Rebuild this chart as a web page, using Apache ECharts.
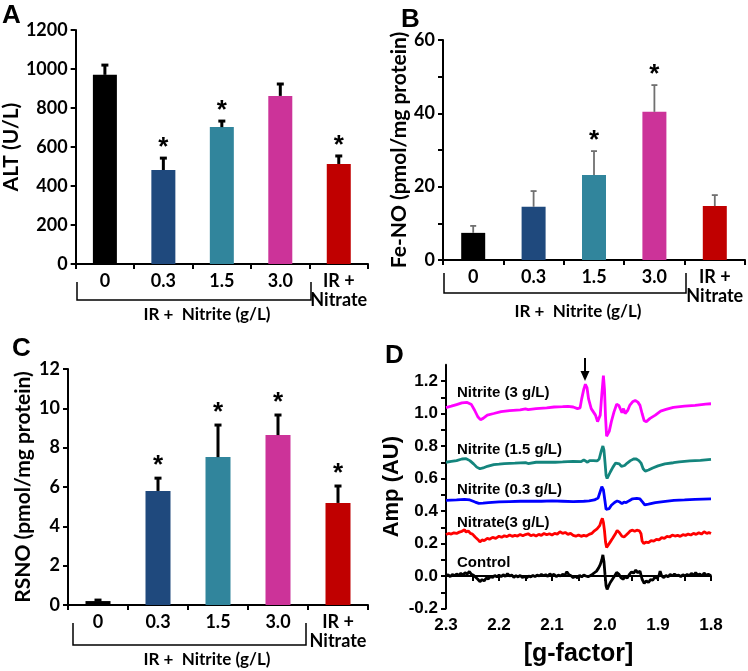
<!DOCTYPE html>
<html><head><meta charset="utf-8">
<script src="https://cdn.jsdelivr.net/npm/echarts@6/dist/echarts.min.js"></script>
<style>html,body{margin:0;padding:0;background:#fff}#c{width:748px;height:671px}</style>
</head><body><div id="c"></div>
<script>
// ---------- data ----------
const categories = ['0', '0.3', '1.5', '3.0', 'IR +\nNitrate'];
const barColors = ['#000000', '#1F497D', '#31859C', '#CC3399', '#C00000'];

const altMean = [970, 482, 702, 862, 513];
const altErr  = [50, 61, 31, 61, 41];
const altSig  = [0, 1, 1, 0, 1];

const fenoMean = [7.4, 14.5, 23.2, 40.4, 14.7];
const fenoErr  = [1.9, 4.3, 6.5, 7.3, 3.0];
const fenoSig  = [0, 0, 1, 1, 0];

const rsnoMean = [0.2, 5.8, 7.52, 8.64, 5.19];
const rsnoErr  = [0.05, 0.65, 1.63, 1.02, 0.86];
const rsnoSig  = [0, 1, 1, 1, 1];

const eprNames = ['Nitrite (3 g/L)', 'Nitrite (1.5 g/L)', 'Nitrite (0.3 g/L)', 'Nitrate(3 g/L)', 'Control'];
const eprColors = ['#FF00FF', '#14857D', '#0000FF', '#FF0000', '#000000'];

const eprNitrite3 = [[2.300,1.036],[2.290,1.045],[2.280,1.055],[2.270,1.065],[2.260,1.068],[2.252,1.055],[2.246,1.02],[2.240,0.98],[2.235,0.962],[2.230,0.97],[2.222,0.99],[2.21,1.0],[2.196,1.012],[2.18,1.018],[2.16,1.022],[2.15,1.028],[2.145,1.024],[2.13,1.03],[2.11,1.034],[2.096,1.04],[2.08,1.042],[2.07,1.044],[2.06,1.04],[2.052,1.03],[2.047,1.035],[2.044,1.09],[2.040,1.15],[2.037,1.18],[2.034,1.16],[2.031,1.09],[2.026,1.03],[2.022,1.01],[2.018,0.99],[2.014,0.95],[2.011,0.94],[2.009,0.99],[2.006,1.12],[2.003,1.233],[2.001,1.15],[1.999,0.98],[1.997,0.86],[1.995,0.85],[1.992,0.89],[1.988,0.95],[1.983,1.01],[1.978,1.057],[1.974,1.05],[1.970,1.02],[1.968,1.005],[1.965,1.03],[1.962,1.0],[1.960,0.995],[1.957,1.02],[1.953,1.052],[1.948,1.072],[1.943,1.08],[1.938,1.07],[1.934,1.05],[1.930,1.0],[1.926,0.955],[1.922,0.95],[1.915,0.97],[1.905,0.99],[1.895,1.015],[1.885,1.025],[1.871,1.038],[1.85,1.045],[1.83,1.05],[1.81,1.058],[1.80,1.06]];

const eprNitrite15 = [[2.3,0.70],[2.29,0.705],[2.28,0.71],[2.27,0.72],[2.262,0.722],[2.255,0.71],[2.248,0.69],[2.242,0.67],[2.236,0.66],[2.23,0.665],[2.222,0.675],[2.21,0.685],[2.2,0.688],[2.19,0.692],[2.17,0.694],[2.15,0.698],[2.145,0.692],[2.13,0.7],[2.11,0.7],[2.094,0.70],[2.08,0.702],[2.06,0.706],[2.045,0.704],[2.04,0.715],[2.037,0.72],[2.033,0.70],[2.029,0.71],[2.026,0.72],[2.022,0.71],[2.019,0.70],[2.015,0.708],[2.011,0.72],[2.007,0.77],[2.004,0.80],[2.002,0.775],[2.0,0.70],[1.998,0.62],[1.996,0.60],[1.993,0.62],[1.99,0.64],[1.985,0.67],[1.98,0.695],[1.977,0.70],[1.973,0.69],[1.969,0.675],[1.966,0.685],[1.963,0.68],[1.958,0.695],[1.952,0.71],[1.946,0.72],[1.941,0.72],[1.936,0.71],[1.932,0.695],[1.928,0.66],[1.924,0.645],[1.918,0.652],[1.91,0.665],[1.9,0.678],[1.887,0.69],[1.871,0.697],[1.86,0.702],[1.85,0.705],[1.84,0.708],[1.83,0.71],[1.82,0.712],[1.80,0.718]];

const eprNitrite03 = [[2.3,0.465],[2.28,0.468],[2.265,0.472],[2.255,0.468],[2.245,0.455],[2.238,0.447],[2.23,0.448],[2.22,0.452],[2.2,0.456],[2.18,0.458],[2.16,0.46],[2.14,0.46],[2.12,0.46],[2.1,0.462],[2.08,0.46],[2.06,0.458],[2.04,0.46],[2.03,0.462],[2.02,0.468],[2.013,0.48],[2.009,0.52],[2.006,0.55],[2.003,0.53],[2.0,0.46],[1.998,0.41],[1.996,0.398],[1.992,0.415],[1.988,0.435],[1.982,0.452],[1.977,0.462],[1.972,0.455],[1.968,0.445],[1.964,0.455],[1.96,0.452],[1.955,0.462],[1.948,0.475],[1.94,0.478],[1.934,0.474],[1.929,0.455],[1.925,0.438],[1.918,0.442],[1.905,0.452],[1.89,0.458],[1.87,0.465],[1.85,0.468],[1.83,0.472],[1.80,0.475]];

const eprNitrate3 = [[2.3,0.255],[2.295,0.262],[2.29,0.258],[2.285,0.266],[2.28,0.262],[2.275,0.27],[2.27,0.275],[2.265,0.285],[2.262,0.27],[2.258,0.278],[2.254,0.262],[2.25,0.258],[2.245,0.24],[2.24,0.225],[2.236,0.21],[2.232,0.222],[2.228,0.218],[2.222,0.232],[2.218,0.226],[2.212,0.238],[2.206,0.232],[2.2,0.245],[2.195,0.238],[2.19,0.248],[2.185,0.242],[2.18,0.252],[2.175,0.244],[2.17,0.25],[2.165,0.246],[2.16,0.256],[2.155,0.248],[2.15,0.255],[2.145,0.26],[2.14,0.248],[2.135,0.254],[2.13,0.246],[2.125,0.256],[2.12,0.25],[2.115,0.262],[2.11,0.254],[2.105,0.26],[2.1,0.252],[2.095,0.262],[2.09,0.258],[2.085,0.272],[2.08,0.262],[2.075,0.268],[2.07,0.256],[2.065,0.262],[2.06,0.25],[2.055,0.245],[2.05,0.252],[2.045,0.244],[2.04,0.25],[2.035,0.246],[2.03,0.256],[2.025,0.262],[2.02,0.278],[2.015,0.29],[2.01,0.31],[2.007,0.34],[2.005,0.355],[2.003,0.33],[2.001,0.28],[1.999,0.21],[1.997,0.175],[1.994,0.185],[1.99,0.21],[1.985,0.235],[1.98,0.262],[1.977,0.28],[1.973,0.268],[1.968,0.245],[1.964,0.24],[1.96,0.252],[1.956,0.265],[1.952,0.278],[1.948,0.282],[1.944,0.276],[1.94,0.282],[1.935,0.278],[1.932,0.26],[1.93,0.215],[1.927,0.2],[1.923,0.208],[1.918,0.205],[1.913,0.218],[1.908,0.214],[1.903,0.226],[1.898,0.222],[1.893,0.236],[1.888,0.232],[1.883,0.244],[1.878,0.24],[1.873,0.252],[1.868,0.246],[1.863,0.25],[1.858,0.244],[1.853,0.254],[1.848,0.25],[1.843,0.258],[1.838,0.252],[1.833,0.262],[1.828,0.256],[1.823,0.266],[1.818,0.258],[1.813,0.272],[1.808,0.262],[1.804,0.268],[1.80,0.262]];

const eprControl = [[2.3,0.0],[2.296,0.008],[2.292,-0.004],[2.288,0.01],[2.284,0.002],[2.28,0.012],[2.276,0.004],[2.272,0.016],[2.268,0.006],[2.264,0.02],[2.26,0.012],[2.256,0.028],[2.252,0.01],[2.248,0.004],[2.244,-0.008],[2.24,-0.02],[2.236,-0.035],[2.232,-0.022],[2.228,-0.03],[2.224,-0.012],[2.22,-0.018],[2.216,-0.002],[2.212,-0.01],[2.208,0.004],[2.204,-0.006],[2.2,0.006],[2.196,-0.004],[2.192,0.008],[2.188,-0.002],[2.184,0.014],[2.18,0.0],[2.176,0.006],[2.172,-0.008],[2.168,0.002],[2.164,-0.006],[2.16,0.004],[2.156,-0.01],[2.152,-0.002],[2.148,-0.012],[2.144,0.0],[2.14,-0.006],[2.136,0.004],[2.132,-0.004],[2.128,0.006],[2.124,0.0],[2.12,0.01],[2.116,0.002],[2.112,0.008],[2.108,-0.002],[2.104,0.012],[2.1,0.004],[2.096,0.01],[2.092,-0.004],[2.088,0.006],[2.084,0.0],[2.08,0.01],[2.076,0.004],[2.072,0.026],[2.068,0.008],[2.064,0.002],[2.06,-0.01],[2.056,0.0],[2.052,-0.012],[2.048,0.004],[2.044,-0.006],[2.04,0.006],[2.036,0.0],[2.032,-0.004],[2.028,0.002],[2.024,0.01],[2.02,0.02],[2.016,0.03],[2.012,0.05],[2.009,0.07],[2.006,0.1],[2.004,0.13],[2.002,0.09],[2.0,0.01],[1.998,-0.06],[1.996,-0.082],[1.993,-0.06],[1.99,-0.04],[1.986,-0.02],[1.982,0.0],[1.978,0.022],[1.974,0.012],[1.97,-0.01],[1.966,-0.02],[1.962,-0.005],[1.958,-0.012],[1.954,0.01],[1.95,0.025],[1.946,0.018],[1.942,0.036],[1.938,0.02],[1.934,0.03],[1.93,-0.02],[1.926,-0.045],[1.922,-0.03],[1.918,-0.04],[1.914,-0.022],[1.91,-0.026],[1.906,-0.008],[1.902,-0.014],[1.898,0.004],[1.896,0.03],[1.893,0.0],[1.889,-0.01],[1.885,0.004],[1.881,-0.006],[1.877,0.01],[1.873,0.0],[1.869,0.012],[1.865,0.002],[1.861,0.006],[1.857,-0.004],[1.853,0.008],[1.849,0.0],[1.845,0.01],[1.841,0.002],[1.837,0.016],[1.833,0.004],[1.829,0.02],[1.825,0.006],[1.821,0.012],[1.817,0.0],[1.813,0.018],[1.809,0.004],[1.805,0.01],[1.80,0.002]];

const eprSeriesData = [eprNitrite3, eprNitrite15, eprNitrite03, eprNitrate3, eprControl];

// ---------- styling helpers ----------
const FA = 'Lato, "Open Sans", sans-serif';
const FD = '"Liberation Sans", Arial, sans-serif';

function catAxis(gi) {
  return {
    type: 'category', gridIndex: gi, data: categories,
    axisLine: { lineStyle: { color: '#000', width: 2 } },
    axisTick: { show: true, alignWithLabel: false, interval: 0, length: 5, lineStyle: { color: '#000', width: 2 } },
    axisLabel: { interval: 0, color: '#000', fontFamily: FA, fontWeight: 'bold', fontSize: 18, margin: 8, lineHeight: 19 }
  };
}
function valAxis(gi, max, interval, name, gap, fmt) {
  return {
    type: 'value', gridIndex: gi, min: 0, max: max, interval: interval,
    name: name, nameLocation: 'middle', nameGap: gap,
    nameTextStyle: { color: '#000', fontFamily: FA, fontWeight: 'bold', fontSize: 21 },
    splitLine: { show: false },
    axisLine: { show: true, lineStyle: { color: '#000', width: 2 } },
    axisTick: { show: true, length: 5, lineStyle: { color: '#000', width: 2 } },
    axisLabel: { color: '#000', fontFamily: FA, fontWeight: 'bold', fontSize: 18, margin: 8,
      formatter: fmt || (v => String(v)) }
  };
}
function barSeries(gi, mean, bw) {
  return {
    type: 'bar', xAxisIndex: gi, yAxisIndex: gi, barWidth: bw,
    data: mean.map((v, i) => ({ value: v, itemStyle: { color: barColors[i] } })),
    z: 2
  };
}
function errSeries(gi, mean, err, sig, st) {
  return {
    type: 'custom', xAxisIndex: gi, yAxisIndex: gi, z: 5,
    data: mean.map((m, i) => [i, m, m + err[i], sig[i]]),
    renderItem: function (params, api) {
      const x = api.value(0);
      const lo = api.coord([x, api.value(1)]);
      const hi = api.coord([x, api.value(2)]);
      const children = [
        { type: 'line', shape: { x1: lo[0], y1: lo[1], x2: hi[0], y2: hi[1] }, style: { stroke: st.color, lineWidth: st.w } },
        { type: 'line', shape: { x1: hi[0] - st.cap, y1: hi[1], x2: hi[0] + st.cap, y2: hi[1] }, style: { stroke: st.color, lineWidth: st.w } }
      ];
      if (api.value(3)) {
        children.push({ type: 'text', x: hi[0], y: hi[1] - st.starGap,
          style: { text: '*', fill: '#000', font: 'bold 26px ' + FD, textAlign: 'center', textVerticalAlign: 'middle' } });
      }
      return { type: 'group', children: children };
    }
  };
}
function bracket(x1, x2, yTop, yBot, tx, ty) {
  return [
    { type: 'polyline', shape: { points: [[x1, yTop], [x1, yBot], [x2, yBot], [x2, yTop]] }, style: { stroke: '#000', lineWidth: 1.5, fill: null } },
    { type: 'text', x: tx, y: ty, style: { text: 'IR +  Nitrite (g/L)', fill: '#000', font: 'bold 17px ' + FA, textAlign: 'center', textVerticalAlign: 'middle' } }
  ];
}
function panelLabel(t, x, y) {
  return { type: 'text', x: x, y: y, style: { text: t, fill: '#000', font: 'bold 26px ' + FD, textAlign: 'left', textVerticalAlign: 'top' } };
}

const eprLabelPos = [[457, 393], [457, 450], [457, 490], [457, 523], [457, 563]];

const option = {
  animation: false,
  backgroundColor: '#fff',
  grid: [
    { left: 68, top: 30, width: 300, height: 234 },
    { left: 443, top: 40, width: 302, height: 220 },
    { left: 68, top: 369, width: 300, height: 236 },
    { left: 446, top: 364.75, width: 265, height: 243.75 }
  ],
  xAxis: [
    catAxis(0), catAxis(1), catAxis(2),
    {
      type: 'value', gridIndex: 3, min: 1.8, max: 2.3, interval: 0.05, inverse: true,
      name: '[g-factor]', nameLocation: 'middle', nameGap: 33,
      nameTextStyle: { color: '#000', fontFamily: FD, fontWeight: 'bold', fontSize: 25 },
      splitLine: { show: false },
      axisLine: { lineStyle: { color: '#000', width: 2 } },
      axisTick: { length: 5, lineStyle: { color: '#000', width: 2 } },
      axisLabel: { color: '#000', fontFamily: FD, fontWeight: 'bold', fontSize: 17, margin: 8,
        formatter: v => (Math.round(v * 20) % 2 === 0 ? v.toFixed(1) : '') }
    }
  ],
  yAxis: [
    valAxis(0, 1200, 200, 'ALT (U/L)', 46),
    valAxis(1, 60, 10, 'Fe-NO (pmol/mg protein)', 28, v => (v % 20 === 0 ? String(v) : '')),
    valAxis(2, 12, 2, 'RSNO (pmol/mg protein)', 34),
    {
      type: 'value', gridIndex: 3, min: -0.2, max: 1.3, interval: 0.1,
      name: 'Amp (AU)', nameLocation: 'middle', nameGap: 43,
      nameTextStyle: { color: '#000', fontFamily: FD, fontWeight: 'bold', fontSize: 22 },
      splitLine: { show: false },
      axisLine: { show: true, lineStyle: { color: '#000', width: 2 } },
      axisTick: { show: true, length: 5, lineStyle: { color: '#000', width: 2 } },
      axisLabel: { color: '#000', fontFamily: FD, fontWeight: 'bold', fontSize: 17, margin: 8, showMaxLabel: false,
        formatter: v => { const k = Math.round(v * 10); return (k % 2 === 0 && k <= 12) ? (k / 10).toFixed(1) : ''; } }
    }
  ],
  series: [
    barSeries(0, altMean, 24),
    errSeries(0, altMean, altErr, altSig, { color: '#000', w: 3, cap: 3.5, starGap: 10 }),
    barSeries(1, fenoMean, 24),
    errSeries(1, fenoMean, fenoErr, fenoSig, { color: '#707070', w: 1.8, cap: 3, starGap: 10 }),
    barSeries(2, rsnoMean, 25),
    errSeries(2, rsnoMean, rsnoErr, rsnoSig, { color: '#000', w: 3, cap: 3.5, starGap: 12 })
  ].concat(eprSeriesData.map((d, i) => ({
    type: 'line', name: eprNames[i], xAxisIndex: 3, yAxisIndex: 3, data: d,
    showSymbol: false, symbol: 'none', smooth: false,
    lineStyle: { color: eprColors[i], width: 2.8 }, z: 3
  }))),
  graphic: [
    panelLabel('A', 2, 3),
    panelLabel('B', 401, 7),
    panelLabel('C', 12, 336),
    panelLabel('D', 385, 343),
    ...bracket(77, 311, 282, 300, 207, 315),
    ...bracket(444, 686, 273, 293, 578, 312),
    ...bracket(73, 306, 623, 645, 207, 660),
    ...eprNames.map((n, i) => ({ type: 'text', x: eprLabelPos[i][0], y: eprLabelPos[i][1],
      style: { text: n, fill: '#000', font: 'bold 15px ' + FD, textAlign: 'left', textVerticalAlign: 'middle' } })),
    { type: 'line', shape: { x1: 585, y1: 358, x2: 585, y2: 373 }, style: { stroke: '#000', lineWidth: 2 } },
    { type: 'polygon', shape: { points: [[580.5, 371], [589.5, 371], [585, 381]] }, style: { fill: '#000' } }
  ]
};

const chart = echarts.init(document.getElementById('c'), null, { renderer: 'canvas' });
chart.setOption(option);
</script>
</body></html>
